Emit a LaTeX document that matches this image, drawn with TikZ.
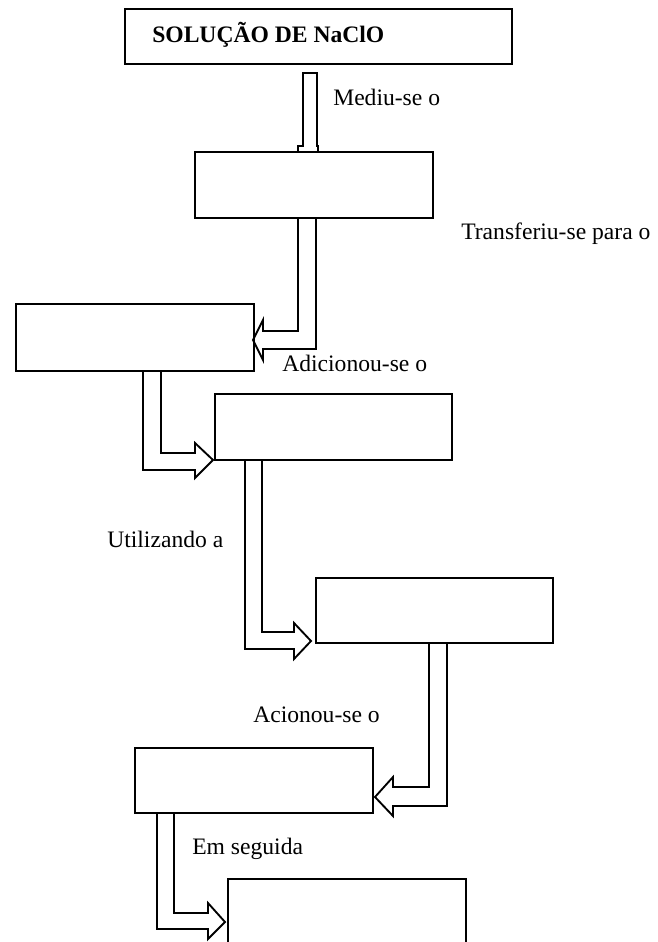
\documentclass[tikz,border=0pt]{standalone}
\usepackage{fontspec}
\setmainfont{Liberation Serif}
\usetikzlibrary{calc}
\begin{document}
\begin{tikzpicture}[x=0.75pt,y=-0.75pt,
  box/.style={draw, line width=1.4pt, inner sep=0pt, outer sep=0pt, anchor=north west},
  blk/.style={draw, line width=1.4pt, line join=miter},
  lbl/.style={anchor=base west, inner sep=0pt, font=\fontsize{17.7pt}{20pt}\selectfont}]
\useasboundingbox (0,0) rectangle (657,942);
\clip (0,0) rectangle (657,942);
% boxes
\node[box, minimum width=387*0.75pt, minimum height=55*0.75pt] (b1) at (125,9) {};
\node[box, minimum width=238*0.75pt, minimum height=66*0.75pt] (b2) at (195,152) {};
\node[box, minimum width=238*0.75pt, minimum height=67*0.75pt] (b3) at (16,304) {};
\node[box, minimum width=237*0.75pt, minimum height=66*0.75pt] (b4) at (215,394) {};
\node[box, minimum width=237*0.75pt, minimum height=65*0.75pt] (b5) at (316,578) {};
\node[box, minimum width=238*0.75pt, minimum height=65*0.75pt] (b6) at (135,748) {};
\node[box, minimum width=238*0.75pt, minimum height=90*0.75pt] (b7) at (228,879) {};
% labels
\node[lbl, font=\fontsize{17.7pt}{20pt}\selectfont\bfseries] (title) at (152,43) {SOLUÇÃO DE NaClO};
\node[lbl] (l1) at (333,105) {Mediu-se o};
\node[lbl] (l2) at (461,239) {Transferiu-se para o};
\node[lbl] (l3) at (282,371) {Adicionou-se o};
\node[lbl] (l4) at (107,547) {Utilizando a};
\node[lbl] (l5) at (253,722) {Acionou-se o};
\node[lbl] (l6) at (192,854) {Em seguida};
% connector b1 -> b2
\draw[blk] (303,73) -- (317,73) -- (317,146) -- (318,146) -- (318,0 |- b2.north)
  -- (298,0 |- b2.north) -- (298,146) -- (303,146) -- cycle;
% connector b2 -> b3
\draw[blk] (298,0 |- b2.south) -- (298,331) -- (263,331) -- (263,320)
  -- ($(b3.east)+(-1,2.5)$) -- (263,360) -- (263,349) -- (316,349) -- (316,0 |- b2.south);
% connector b3 -> b4
\draw[blk] (161,0 |- b3.south) -- (161,453) -- (195,453) -- (195,443)
  -- ($(b4.south west)+(-2,0)$) -- (195,478) -- (195,470) -- (143,470) -- (143,0 |- b3.south);
% connector b4 -> b5
\draw[blk] (262,0 |- b4.south) -- (262,632) -- (294,632) -- (294,623)
  -- ($(b5.south west)+(-5,-2)$) -- (294,659) -- (294,649) -- (245,649) -- (245,0 |- b4.south);
% connector b5 -> b6
\draw[blk] (429,0 |- b5.south) -- (429,787) -- (393,787) -- (393,777)
  -- ($(b6.east)+(2,16.5)$) -- (393,816) -- (393,806) -- (447,806) -- (447,0 |- b5.south);
% connector b6 -> b7
\draw[blk] (174,0 |- b6.south) -- (174,913) -- (208,913) -- (208,903)
  -- ($(b7.north west)+(-3,43)$) -- (208,939) -- (208,929) -- (157,929) -- (157,0 |- b6.south);
\end{tikzpicture}
\end{document}
